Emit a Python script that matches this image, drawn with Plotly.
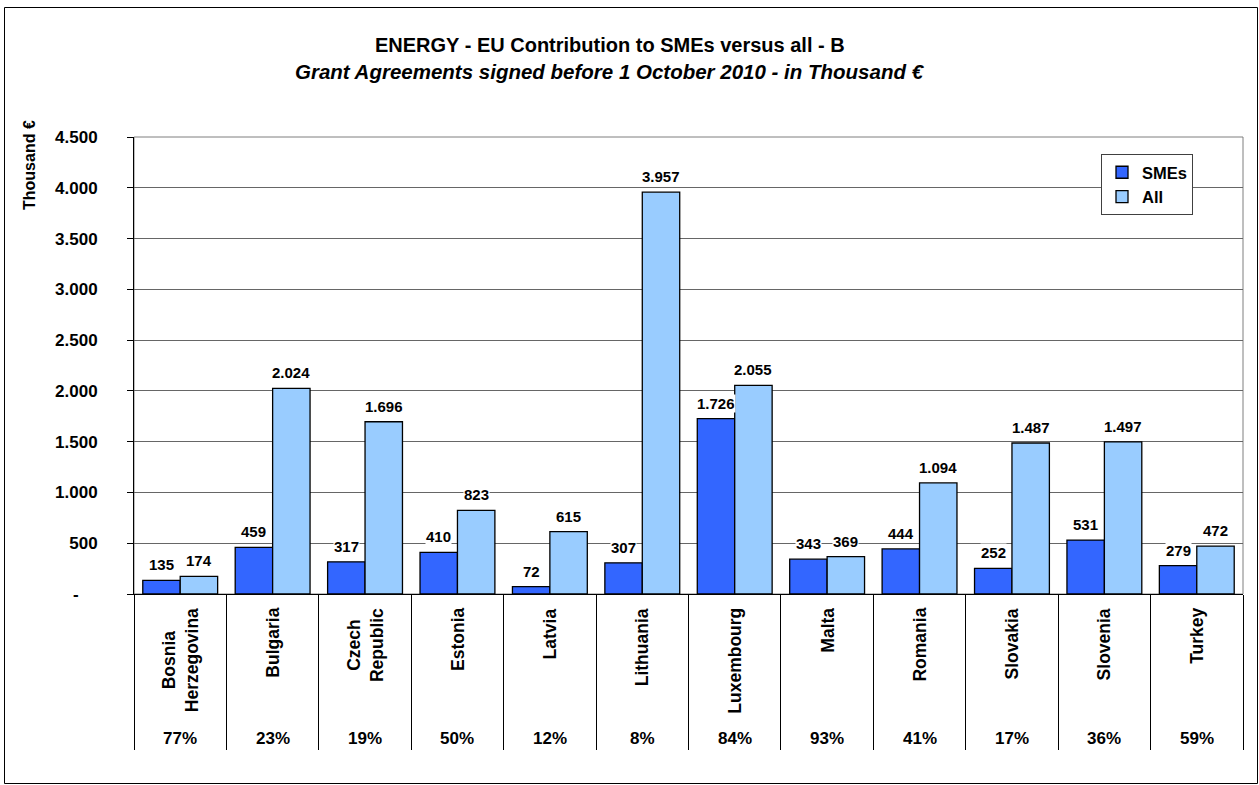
import plotly.graph_objects as go

# ---------------- data ----------------
categories = ["Bosnia Herzegovina", "Bulgaria", "Czech Republic", "Estonia", "Latvia",
              "Lithuania", "Luxembourg", "Malta", "Romania", "Slovakia", "Slovenia", "Turkey"]
category_labels = ["Bosnia<br>Herzegovina", "Bulgaria", "Czech<br>Republic", "Estonia", "Latvia",
                   "Lithuania", "Luxembourg", "Malta", "Romania", "Slovakia", "Slovenia", "Turkey"]
smes = [135, 459, 317, 410, 72, 307, 1726, 343, 444, 252, 531, 279]
all_values = [174, 2024, 1696, 823, 615, 3957, 2055, 369, 1094, 1487, 1497, 472]
sme_share = ["77%", "23%", "19%", "50%", "12%", "8%", "84%", "93%", "41%", "17%", "36%", "59%"]
y_tickvals = [0, 500, 1000, 1500, 2000, 2500, 3000, 3500, 4000, 4500]
y_ticktext = ["-\u00a0\u00a0\u00a0\u00a0", "500", "1.000", "1.500", "2.000", "2.500",
              "3.000", "3.500", "4.000", "4.500"]

title = "ENERGY - EU Contribution to SMEs versus all - B"
subtitle = "Grant Agreements signed before 1 October 2010 - in Thousand €"

# ---------------- layout geometry ----------------
W, H = 1259, 785
L, R, T, B = 134, 1243, 137, 594
PW, PH = R - L, B - T


def pxx(p):
    return (p - L) / PW


def pxy(p):
    return (B - p) / PH


FONT = "Arial, 'Liberation Sans', Helvetica, sans-serif"
C_SME = "#3366FF"
C_ALL = "#99CCFF"
BARGAP = 0.19

fig = go.Figure()
fig.add_trace(go.Bar(name="SMEs", x=categories, y=smes,
                     marker=dict(color=C_SME, line=dict(color="black", width=1.3))))
fig.add_trace(go.Bar(name="All", x=categories, y=all_values,
                     marker=dict(color=C_ALL, line=dict(color="black", width=1.3))))

annotations = []
half = (1 - BARGAP) / 4  # center offset of each bar inside its group (axis units)
for i, cat in enumerate(categories):
    for val, off in ((smes[i], -half), (all_values[i], half)):
        annotations.append(dict(
            x=i + off, y=val, xref="x", yref="y", text=f"<b>{val:,}</b>".replace(",", "."),
            showarrow=False, yanchor="bottom", xanchor="center", yshift=6,
            bgcolor="white", borderpad=0,
            font=dict(family=FONT, size=15, color="black")))
    annotations.append(dict(
        x=cat, y=pxy(606), xref="x", yref="paper", text=f"<b>{category_labels[i]}</b>",
        textangle=-90, showarrow=False, yanchor="top", xanchor="center", align="center",
        font=dict(family=FONT, size=17.5, color="black")))
    annotations.append(dict(
        x=cat, y=pxy(738), xref="x", yref="paper", text=f"<b>{sme_share[i]}</b>",
        showarrow=False, yanchor="middle", xanchor="center",
        font=dict(family=FONT, size=17, color="black")))

annotations += [
    dict(x=pxx(610), y=pxy(45), xref="paper", yref="paper", text=f"<b>{title}</b>",
         showarrow=False, xanchor="center", yanchor="middle",
         font=dict(family=FONT, size=20, color="black")),
    dict(x=pxx(610), y=pxy(72), xref="paper", yref="paper", text=f"<b><i>{subtitle}</i></b>",
         showarrow=False, xanchor="center", yanchor="middle",
         font=dict(family=FONT, size=20.5, color="black")),
    dict(x=pxx(30), y=pxy(165), xref="paper", yref="paper", text="<b>Thousand €</b>",
         textangle=-90, showarrow=False, xanchor="center", yanchor="middle",
         font=dict(family=FONT, size=16, color="black")),
]

shapes = [
    # plot area border
    dict(type="rect", xref="paper", yref="paper", x0=0, x1=1, y0=0, y1=1,
         line=dict(color="#7f7f7f", width=1), layer="below"),
    # outer chart border
    dict(type="rect", xref="paper", yref="paper", x0=pxx(4.5), x1=pxx(1257.5),
         y0=pxy(783.5), y1=pxy(7.5), line=dict(color="black", width=1), layer="below"),
]

fig.update_layout(
    width=W, height=H, autosize=False,
    margin=dict(l=L, r=W - R, t=T, b=H - B, pad=0),
    paper_bgcolor="white", plot_bgcolor="white",
    barmode="group", bargap=BARGAP, bargroupgap=0,
    separators=",.",
    font=dict(family=FONT, size=15, color="black"),
    showlegend=True,
    legend=dict(x=pxx(1147), y=pxy(154), xanchor="center", yanchor="top",
                bgcolor="white", bordercolor="#404040", borderwidth=1,
                font=dict(family=FONT, size=16.5, color="black", weight="bold"),
                itemwidth=30, tracegroupgap=0),
    annotations=annotations,
    shapes=shapes,
)

fig.update_xaxes(type="category", showticklabels=False, ticks="outside",
                 tickson="boundaries", ticklen=155, tickcolor="black", tickwidth=1,
                 showline=True, linecolor="black", linewidth=1, showgrid=False,
                 range=[-0.5, len(categories) - 0.5], fixedrange=True)
fig.update_yaxes(range=[0, 4500], tickvals=y_tickvals, ticktext=y_ticktext,
                 ticks="outside", ticklen=6, tickcolor="black", tickwidth=1,
                 ticklabelstandoff=26,
                 tickfont=dict(family=FONT, size=17, color="black", weight="bold"),
                 showline=True, linecolor="black", linewidth=1,
                 showgrid=True, gridcolor="#666666", gridwidth=1, zeroline=False,
                 fixedrange=True)

fig.write_html("out.html", config={"displayModeBar": False},
               post_script="document.body.style.margin='0';")
